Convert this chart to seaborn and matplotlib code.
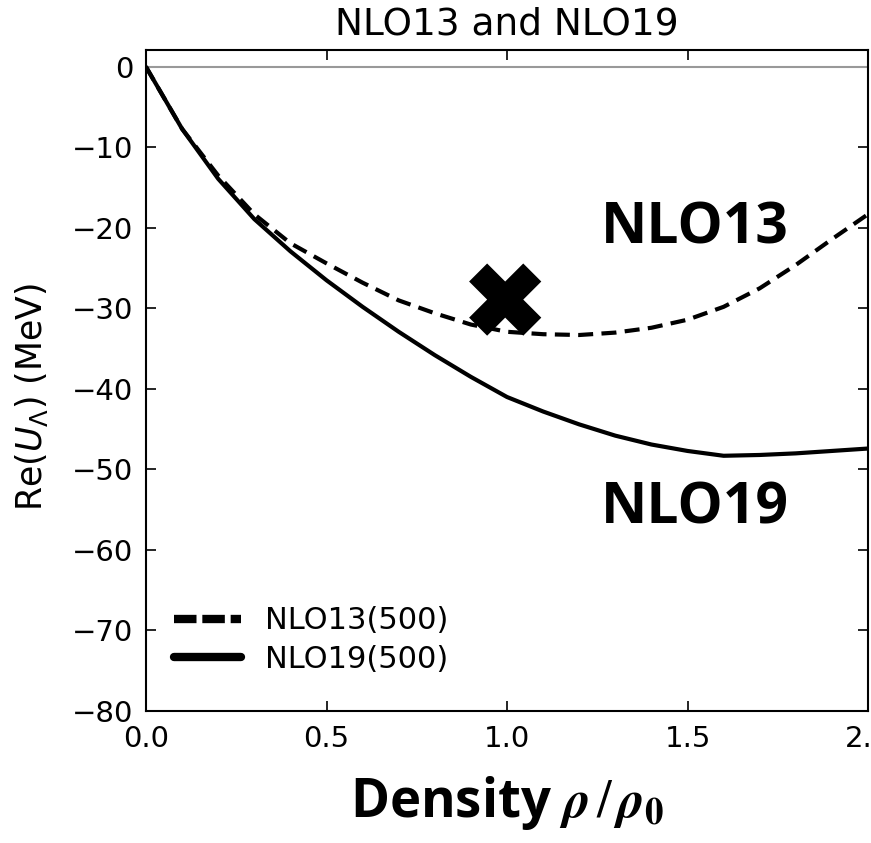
import matplotlib
matplotlib.use("Agg")
import matplotlib.pyplot as plt
import seaborn as sns
import pandas as pd

# values
density = [0.0, 0.1, 0.2, 0.3, 0.4, 0.5, 0.6, 0.7, 0.8, 0.9, 1.0,
           1.1, 1.2, 1.3, 1.4, 1.5, 1.6, 1.7, 1.8, 1.9, 2.0]
nlo13 = [0.0, -7.7, -13.5, -18.3, -21.9, -24.4, -26.8, -29.0, -30.6, -32.0, -32.9,
         -33.2, -33.3, -33.0, -32.4, -31.4, -29.8, -27.5, -24.6, -21.4, -18.3]
nlo19 = [0.0, -7.7, -13.9, -18.9, -22.9, -26.5, -29.8, -32.9, -35.8, -38.5, -41.0,
         -42.8, -44.4, -45.8, -46.9, -47.7, -48.3, -48.2, -48.0, -47.7, -47.4]
labels = ["NLO13(500)", "NLO19(500)"]
cross_x = [0.995]
cross_y = [-28.9]

df = pd.DataFrame({"density": density * 2,
                   "U": nlo13 + nlo19,
                   "model": [labels[0]] * len(density) + [labels[1]] * len(density)})

sns.set_style("ticks")
plt.rcParams["font.family"] = ["DejaVu Sans"]
for key in ["text.color", "axes.labelcolor", "xtick.color", "ytick.color", "axes.edgecolor"]:
    plt.rcParams[key] = "black"

fig = plt.figure(figsize=(8.71, 8.43), dpi=100)
ax = fig.add_axes([146 / 871, (843 - 711) / 843, (868 - 146) / 871, (711 - 50) / 843])

ax.axhline(0, color="#999999", lw=1.5, zorder=1)
sns.lineplot(data=df, x="density", y="U", style="model",
             dashes={labels[0]: (3.6, 2.0), labels[1]: ""},
             color="black", lw=3, ax=ax)
sns.scatterplot(x=cross_x, y=cross_y, marker="X", s=52 ** 2, color="black",
                edgecolor="none", ax=ax, zorder=5)

ax.text(1.52, -20.1, "NLO13", fontsize=41, fontweight="bold", family="Open Sans",
        ha="center", va="center")
ax.text(1.52, -54.8, "NLO19", fontsize=41, fontweight="bold", family="Open Sans",
        ha="center", va="center")

ax.set_xlim(0, 2.0)
ax.set_ylim(-80, 2.1)
ax.set_xticks([0.0, 0.5, 1.0, 1.5, 2.0])
ax.set_xticklabels(["0.0", "0.5", "1.0", "1.5", "2.0"])
ax.set_yticks(range(-80, 1, 10))
ax.tick_params(direction="in", length=7, width=1.2, labelsize=21,
               top=True, right=True)
ax.tick_params(axis="x", pad=10)
ax.tick_params(axis="y", pad=9)
for s in ax.spines.values():
    s.set_linewidth(1.5)
    s.set_visible(True)

ax.set_title("NLO13 and NLO19", fontsize=27, pad=11)
ax.set_ylabel(r"Re($U_\Lambda$) (MeV)", fontsize=25)
ax.yaxis.set_label_coords(-0.133, 0.475)
ax.set_xlabel(r"Density $\mathbfit{\rho}\,/\,\mathbfit{\rho}_\mathbf{0}$", fontsize=38,
              fontweight="bold", family="Open Sans", math_fontfamily="stix",
              labelpad=15)

leg = ax.legend(loc="lower left", bbox_to_anchor=(0.0, 0.015), frameon=False,
                fontsize=22, handlelength=2.2, labelspacing=0.3)
for line in leg.get_lines():
    line.set_linewidth(6)
leg.get_lines()[0].set_linestyle((0, (2.7, 0.7)))

fig.savefig("out.png", dpi=100)
